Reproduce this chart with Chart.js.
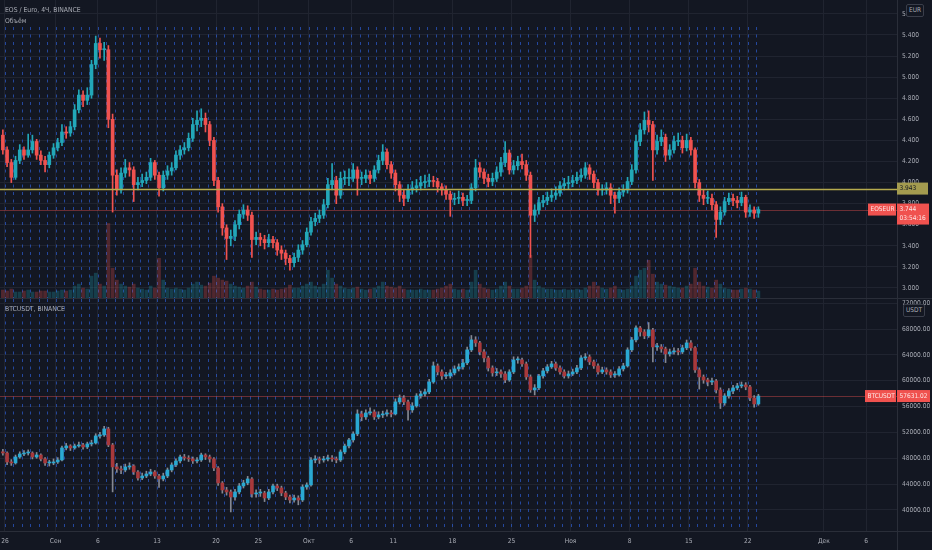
<!DOCTYPE html>
<html><head><meta charset="utf-8">
<script src="https://cdn.jsdelivr.net/npm/chart.js@4.4.1/dist/chart.umd.min.js"></script>
<style>
html,body{margin:0;padding:0;background:#131722;}
#wrap{position:relative;width:932px;height:550px;overflow:hidden;background:#131722;font-family:'Liberation Sans Narrow','DejaVu Sans Condensed',sans-serif;}
#top{position:absolute;left:0;top:0;width:932px;height:298px;}
#bot{position:absolute;left:0;top:299px;width:932px;height:251px;}
.lbl{position:absolute;color:#a9acb5;font-size:6.8px;white-space:nowrap;}
.unit{position:absolute;border:1px solid #3a3e4a;border-radius:2px;color:#a9acb5;font-size:6.5px;line-height:9px;padding:1px 2px;background:#131722;}
.hl{position:absolute;background:#2a2e39;}
</style></head><body>
<div id="wrap">
<div id="top"><canvas id="c1"></canvas></div>
<div id="bot"><canvas id="c2"></canvas></div>
<div class="hl" style="left:0;top:298px;width:932px;height:1px"></div>
<div class="hl" style="left:0;top:531px;width:932px;height:1px"></div>
<div class="hl" style="left:897px;top:531px;width:1px;height:19px"></div>
<div class="lbl" style="left:5px;top:6px">EOS / Euro, 4Ч, BINANCE</div>
<div class="lbl" style="left:5px;top:17px">Объём</div>
<div class="lbl" style="left:5px;top:305px">BTCUSDT, BINANCE</div>
<div class="unit" style="left:906px;top:4px">EUR</div>
<div class="unit" style="left:903px;top:304px">USDT</div>
</div>
<script>
// ---------- data ----------
const tickDays   = [0,6,11,18,25,30,36,41,46,53,60,67,74,81,88,97,102]; // days from 26 Aug
const tickLabels = ['26','Сен','6','13','20','25','Окт','6','11','18','25','Ноя','8','15','22','Дек','6'];
const eosTicks = [3.0,3.2,3.4,3.6,3.8,4.0,4.2,4.4,4.6,4.8,5.0,5.2,5.4,5.6];
const btcTicks = [40000,44000,48000,52000,56000,60000,64000,68000,72000];
const firstCandleDay = -0.5;   // 25 Aug 12:00
const candleDays = 0.5;        // 12h candles
const dayLineFirst = 0, dayLineLast = 89;

const eosFirstOpen = 4.45;
const eosClose = [
4.31,4.19,4.05,4.21,4.31,4.26,4.31,4.39,4.26,4.21,
4.17,4.26,4.33,4.38,4.48,4.47,4.53,4.69,4.83,4.78,
4.83,5.12,5.32,5.26,5.26,4.60,4.07,3.93,4.09,4.14,
4.12,3.98,4.00,4.02,4.05,4.19,4.07,3.95,4.07,4.11,
4.14,4.26,4.31,4.33,4.42,4.55,4.59,4.61,4.55,4.40,
4.02,3.77,3.57,3.47,3.49,3.60,3.70,3.74,3.69,3.46,
3.48,3.46,3.43,3.46,3.43,3.36,3.33,3.28,3.24,3.29,
3.36,3.41,3.53,3.63,3.66,3.69,3.79,3.98,4.02,3.88,
4.04,4.04,4.04,4.12,4.04,4.04,4.07,4.04,4.12,4.21,
4.29,4.17,4.09,3.98,3.88,3.85,3.93,3.95,3.97,4.00,
4.01,4.02,4.01,3.96,3.93,3.89,3.84,3.85,3.86,3.83,
3.83,3.95,4.14,4.10,4.04,4.01,4.04,4.10,4.19,4.28,
4.12,4.16,4.20,4.17,4.07,3.69,3.74,3.81,3.83,3.86,
3.88,3.90,3.97,3.99,4.00,4.02,4.05,4.07,4.14,4.08,
4.00,3.93,3.93,3.95,3.88,3.85,3.91,3.93,4.01,4.12,
4.39,4.50,4.59,4.55,4.31,4.39,4.43,4.26,4.31,4.39,
4.40,4.33,4.40,4.31,4.00,3.88,3.85,3.85,3.79,3.65,
3.72,3.82,3.85,3.83,3.81,3.86,3.72,3.74,3.71,3.744];
const eosHigh = [
4.50,4.34,4.22,4.25,4.36,4.34,4.46,4.45,4.41,4.30,
4.25,4.29,4.37,4.42,4.55,4.53,4.58,4.74,4.88,4.87,
4.90,5.16,5.39,5.37,5.33,5.30,4.65,4.12,4.14,4.22,
4.19,4.15,4.05,4.08,4.10,4.23,4.21,4.10,4.11,4.16,
4.19,4.30,4.35,4.38,4.47,4.61,4.68,4.70,4.66,4.58,
4.43,4.05,3.80,3.60,3.55,3.64,3.74,3.79,3.78,3.72,
3.53,3.52,3.50,3.51,3.49,3.46,3.40,3.36,3.31,3.33,
3.41,3.45,3.57,3.67,3.71,3.74,3.84,4.04,4.18,4.06,
4.10,4.11,4.13,4.18,4.15,4.10,4.12,4.11,4.16,4.26,
4.36,4.32,4.20,4.12,4.01,3.93,3.98,4.01,4.03,4.06,
4.07,4.08,4.06,4.04,3.99,3.97,3.92,3.90,3.92,3.90,
3.88,3.99,4.22,4.19,4.13,4.08,4.09,4.15,4.24,4.39,
4.31,4.21,4.25,4.27,4.21,4.10,3.79,3.86,3.88,3.91,
3.94,3.96,4.01,4.04,4.06,4.07,4.10,4.13,4.19,4.17,
4.11,4.03,3.98,4.00,3.99,3.91,3.95,3.98,4.05,4.17,
4.45,4.56,4.67,4.68,4.58,4.45,4.50,4.46,4.36,4.44,
4.47,4.44,4.46,4.43,4.33,4.03,3.93,3.92,3.89,3.82,
3.77,3.86,3.90,3.89,3.87,3.91,3.88,3.79,3.77,3.77];
const eosLow = [
4.27,4.15,4.00,4.03,4.18,4.22,4.24,4.28,4.22,4.17,
4.10,4.14,4.23,4.30,4.35,4.42,4.44,4.50,4.66,4.72,
4.74,4.80,5.08,5.18,5.16,4.52,3.72,3.88,3.90,4.05,
4.06,3.82,3.93,3.96,3.99,4.02,4.03,3.87,3.92,4.03,
4.07,4.12,4.22,4.27,4.30,4.39,4.49,4.53,4.48,4.35,
3.97,3.72,3.50,3.27,3.40,3.45,3.56,3.66,3.64,3.29,
3.41,3.40,3.37,3.39,3.38,3.31,3.27,3.22,3.17,3.20,
3.25,3.32,3.39,3.50,3.59,3.62,3.66,3.76,3.93,3.80,
3.85,3.98,3.97,4.01,3.88,3.98,4.00,3.99,4.01,4.09,
4.17,4.13,4.04,3.92,3.82,3.78,3.82,3.89,3.91,3.93,
3.95,3.96,3.96,3.91,3.88,3.84,3.68,3.79,3.80,3.78,
3.78,3.80,3.92,4.05,3.99,3.96,3.97,4.01,4.06,4.15,
4.08,4.08,4.12,4.13,4.02,3.29,3.63,3.70,3.77,3.79,
3.82,3.84,3.87,3.93,3.94,3.96,3.99,4.01,4.04,4.03,
3.95,3.88,3.88,3.89,3.80,3.71,3.81,3.87,3.90,3.98,
4.09,4.35,4.46,4.48,4.02,4.27,4.35,4.20,4.22,4.28,
4.35,4.28,4.30,4.26,3.95,3.82,3.79,3.80,3.74,3.48,
3.60,3.69,3.79,3.78,3.76,3.78,3.67,3.68,3.66,3.67];
const eosVolume = [ // thousand EOS
32,28,36,24,24,28,32,24,24,28,
28,24,24,28,32,28,32,48,56,40,
36,88,100,56,48,300,120,72,56,48,
44,56,40,36,32,48,40,160,72,40,
36,40,36,32,40,56,64,52,48,60,
88,80,72,68,56,48,44,40,48,64,
44,36,32,32,36,32,36,40,52,40,
40,48,56,64,48,44,56,112,80,56,
48,40,36,40,44,36,32,36,40,48,
64,48,44,40,48,36,32,32,32,36,
32,32,32,36,40,48,56,36,32,36,
32,64,112,56,40,36,32,36,48,64,
48,36,36,40,48,172,72,48,40,36,
36,32,32,36,32,32,36,32,40,48,
64,48,40,36,40,48,36,32,36,48,
88,112,120,152,96,64,56,52,48,44,
40,40,48,56,120,64,48,44,40,72,
56,40,36,32,32,36,40,36,32,28];
const eosLevel = 3.943;
const eosCountdown = '03:54:16';

const btcFirstOpen = 49000;
const btcClose = [
48820,47430,47280,48200,48670,48820,48820,48200,48510,47900,
47280,47280,47430,47740,49600,49910,49600,49910,50060,49750,
50220,50370,51460,51610,52540,50060,46660,46350,46190,46660,
46810,45880,44950,45260,45570,45880,45260,44800,45260,46190,
46970,47590,48200,48050,47900,47590,47740,48510,48200,47900,
46500,44180,43100,42790,42010,42790,43720,44180,44800,42480,
42630,42630,41860,42790,43720,43410,42630,42010,41550,41860,
41550,43560,43870,47740,47900,47740,47900,48050,47900,47740,
48980,49910,50840,51770,54860,54400,55020,55170,54400,54710,
54860,55020,54860,56720,57340,56720,55480,56100,57650,57960,
58270,59810,62290,61360,60740,60740,61210,61830,62140,62760,
64770,66320,65850,64460,63530,61980,61210,61360,61050,60120,
61360,63220,63220,62600,60590,58580,58890,60740,61520,62140,
62600,61980,61360,60740,61050,61360,61980,63530,63680,62910,
62290,61360,61670,61360,60900,60900,61830,62290,64770,66320,
68170,67550,66940,67860,65230,65230,64920,64150,64460,64610,
64460,65080,65850,65080,61670,60590,60120,59810,59970,58580,
56560,57650,58420,58890,59200,59350,59040,57340,56410,57631.02];
const btcHigh = [
49400,49000,47800,48500,49000,49200,49300,49000,48900,48700,
48100,47700,47900,48100,49900,50300,50100,50200,50500,50300,
50500,50800,51800,52000,52950,52800,50300,47200,46800,47100,
47300,47000,46100,45700,46000,46300,46100,45500,45700,46500,
47300,47900,48500,48600,48400,48200,48100,48800,48700,48500,
48100,46700,44400,43500,43100,43200,44100,44600,45200,45000,
43100,43200,42900,43200,44000,44000,43700,42900,42300,42300,
42200,43900,44200,48100,48400,48200,48300,48500,48400,48200,
49300,50200,51100,52100,55500,55300,55500,55800,55500,55200,
55300,55500,55400,57200,57800,57700,57000,56600,58000,58400,
58700,60200,62900,62600,61700,61300,61700,62300,62600,63300,
65200,67000,66800,66100,64800,63800,62300,61900,61700,61400,
61700,63700,63700,63500,62900,60900,59400,61000,61900,62500,
63000,62900,62300,61700,61500,61800,62400,63900,64200,64000,
63200,62600,62100,62000,61700,61400,62200,62700,65100,66700,
68500,68400,67900,69000,68100,65800,65600,65200,64900,65100,
65000,65500,66300,66200,65300,62000,60900,60400,60400,60200,
58900,58000,58800,59300,59600,59800,59700,59300,57700,57900];
const btcLow = [
48500,47000,46900,47100,48000,48400,48500,47900,48000,47600,
46900,46800,47000,47200,47600,49300,49200,49400,49700,49400,
49500,49900,50200,51100,51400,49800,42800,45800,45600,45900,
46300,45500,44600,44700,45000,45300,44900,43500,44500,45000,
45900,46700,47300,47700,47500,47200,47300,47500,47800,47400,
46100,43800,42600,42300,39700,41500,42500,43400,43900,42000,
42000,42100,41300,41600,42500,43000,42200,41600,41100,41200,
40800,41300,43200,43700,47300,47200,47400,47600,47500,47300,
47500,48700,49600,50500,51500,53800,54000,54700,54000,54100,
54300,54500,54400,54700,56400,56300,53900,55100,55900,57300,
57600,58000,59600,60900,60200,60300,60400,60900,61500,61800,
62500,64500,65300,64000,62900,61500,60700,60800,60500,59700,
59900,61100,62700,62200,60200,58200,57800,58600,60400,61200,
61900,61600,61000,60400,60400,60800,61100,61700,63200,62500,
61900,61000,61100,61000,60500,60500,60700,61500,62100,64500,
66000,66900,66500,66700,62900,64700,64400,62800,63800,64100,
64000,64200,64800,64700,61300,58700,59600,59200,59400,58100,
55700,56200,57300,58000,58600,58900,58600,56900,55900,56200];

// ---------- style ----------
const FONT_FAMILY = "'Liberation Sans Narrow','DejaVu Sans Condensed',sans-serif";
const FONT = {family:FONT_FAMILY, size:6.6};
const TXT = '#a9acb5', GRID = '#202430', BORDER = '#2a2e39';
const X_MIN = -0.59, X_MAX = 105.67;

function candleSets(firstOpen, close, high, low, c, yID){
  const open = [firstOpen, ...close.slice(0, -1)];
  const xs = close.map((_, i) => firstCandleDay + candleDays * (i + 0.5));
  const pick = (u, d) => close.map((v, i) => v >= open[i] ? u : d);
  return {open, xs, sets:[
    {label:'body', yAxisID:yID, data:xs.map((x,i)=>({x, y:[open[i], close[i]]})),
     backgroundColor:pick(c.up, c.dn), barThickness:3, minBarLength:1, grouped:false, order:0},
    {label:'wick', yAxisID:yID, data:xs.map((x,i)=>({x, y:[low[i], high[i]]})),
     backgroundColor:pick(c.wu, c.wd), barThickness:1, grouped:false, order:1}
  ]};
}

function noPad(s){ s.paddingTop = 0; s.paddingBottom = 0; s.paddingLeft = 0; s.paddingRight = 0; }

function xScale(show){
  return {type:'linear', position:'bottom', min:X_MIN, max:X_MAX, offset:false,
    afterBuildTicks:s=>{ s.ticks = tickDays.map(v=>({value:v})); },
    ticks:{display:show, autoSkip:false, maxRotation:0, color:TXT, font:FONT, padding:6,
           callback:(v,i)=>tickLabels[i]},
    grid:{color:GRID, drawTicks:false, offset:false}, border:{display:false},
    afterFit:s=>{ s.height = show ? 19 : 0; noPad(s); }};
}
function yScale(min, max, ticks, dec){
  return {position:'right', min, max,
    afterBuildTicks:s=>{ s.ticks = ticks.map(v=>({value:v})); },
    ticks:{color:TXT, font:FONT, padding:5, autoSkip:false, callback:v=>Number(v).toFixed(dec)},
    grid:{color:GRID, drawTicks:false}, border:{color:BORDER},
    afterFit:s=>{ s.width = 35; noPad(s); }};
}

function box(ctx, x1, y1, x2, y2, fill, lines, color){
  ctx.fillStyle = fill; ctx.fillRect(x1, y1, x2-x1, y2-y1);
  ctx.fillStyle = color; ctx.font = '6.5px ' + FONT_FAMILY;
  ctx.textBaseline = 'middle'; ctx.textAlign = 'left';
  lines.forEach((t, i) => ctx.fillText(t, x1 + 2.5, y1 + 6 + i * 9));
}

const dayLines = {
  id:'dayLines',
  beforeDatasetsDraw(chart, args, opts){
    const {ctx, chartArea:a, scales:{x}} = chart;
    ctx.save();
    ctx.beginPath(); ctx.rect(a.left, a.top, a.right-a.left, a.bottom-a.top); ctx.clip();
    ctx.strokeStyle = 'rgba(48,104,240,0.6)'; ctx.lineWidth = 1; ctx.setLineDash([3,4.5]);
    for (let d = dayLineFirst; d <= dayLineLast; d++){
      const px = Math.round(x.getPixelForValue(d)) + 0.5;
      ctx.beginPath(); ctx.moveTo(px, a.top + opts.from); ctx.lineTo(px, a.bottom); ctx.stroke();
    }
    ctx.setLineDash([]);
    (opts.red || []).forEach(v => {
      const py = Math.round(chart.scales[opts.axis].getPixelForValue(v)) + 0.5;
      ctx.strokeStyle = 'rgba(240,82,79,0.4)'; ctx.beginPath(); ctx.moveTo(a.left, py); ctx.lineTo(a.right, py); ctx.stroke();
    });
    ctx.restore();
  }
};

// ---------- top: EOS/EUR ----------
const eos = candleSets(eosFirstOpen, eosClose, eosHigh, eosLow,
  {up:'#22a7b8', dn:'#f0524f', wu:'#22a7b8', wd:'#f0524f'}, 'y');
const volSet = {label:'vol', yAxisID:'yVol', order:2, grouped:false, barThickness:3,
  data:eos.xs.map((x,i)=>({x, y:eosVolume[i]})),
  backgroundColor:eosClose.map((v,i)=> v >= eos.open[i] ? 'rgba(34,167,184,0.28)' : 'rgba(240,82,79,0.28)')};
const eosLast = eosClose[eosClose.length-1];

new Chart(document.getElementById('c1'), {
  type:'bar',
  data:{datasets:[...eos.sets, volSet]},
  options:{responsive:true, maintainAspectRatio:false, animation:false, layout:{padding:0},
    plugins:{legend:{display:false}, tooltip:{enabled:false},
      dayLines:{from:27, axis:'y', red:[eosLast]}},
    scales:{x:xScale(false), y:yScale(2.905, 5.732, eosTicks, 3),
      yVol:{display:false, min:0, max:1200}}},
  plugins:[dayLines, {
    id:'eosMarks',
    afterDatasetsDraw(chart){
      const {ctx, chartArea:a, scales:{y}} = chart;
      const py = Math.round(y.getPixelForValue(eosLevel)) + 0.5;
      ctx.save(); ctx.strokeStyle = '#b6ab4e'; ctx.lineWidth = 1.5;
      ctx.beginPath(); ctx.moveTo(a.left, py); ctx.lineTo(a.right, py); ctx.stroke(); ctx.restore();
    },
    afterDraw(chart){
      const {ctx, chartArea:a, scales:{y}} = chart;
      ctx.save();
      const ly = y.getPixelForValue(eosLevel);
      box(ctx, a.right, ly-6, a.right+31, ly+6, '#a39b4f', [eosLevel.toFixed(3)], '#131722');
      const ry = y.getPixelForValue(eosLast);
      box(ctx, a.right-29, ry-6, a.right-1, ry+6, '#f0524f', ['EOSEUR'], '#fde6e5');
      box(ctx, a.right, ry-6, a.right+32, ry+15, '#f0524f', [eosLast.toFixed(3), eosCountdown], '#fde6e5');
      ctx.restore();
    }
  }]
});

// ---------- bottom: BTC/USDT ----------
const btc = candleSets(btcFirstOpen, btcClose, btcHigh, btcLow,
  {up:'#2aa9d2', dn:'#a8393b', wu:'#858892', wd:'#858892'}, 'y');
const btcLast = btcClose[btcClose.length-1];

new Chart(document.getElementById('c2'), {
  type:'bar',
  data:{datasets:btc.sets},
  options:{responsive:true, maintainAspectRatio:false, animation:false, layout:{padding:0},
    plugins:{legend:{display:false}, tooltip:{enabled:false},
      dayLines:{from:0, axis:'y', red:[btcLast]}},
    scales:{x:xScale(true), y:yScale(36749, 72644, btcTicks, 2)}},
  plugins:[dayLines, {
    id:'btcMarks',
    afterDraw(chart){
      const {ctx, chartArea:a, scales:{y}} = chart;
      ctx.save();
      const ry = y.getPixelForValue(btcLast);
      box(ctx, a.right-32, ry-6, a.right-1, ry+6, '#f0524f', ['BTCUSDT'], '#fde6e5');
      box(ctx, a.right, ry-6, a.right+33, ry+6, '#f0524f', [btcLast.toFixed(2)], '#fde6e5');
      ctx.restore();
    }
  }]
});
</script>
</body></html>
